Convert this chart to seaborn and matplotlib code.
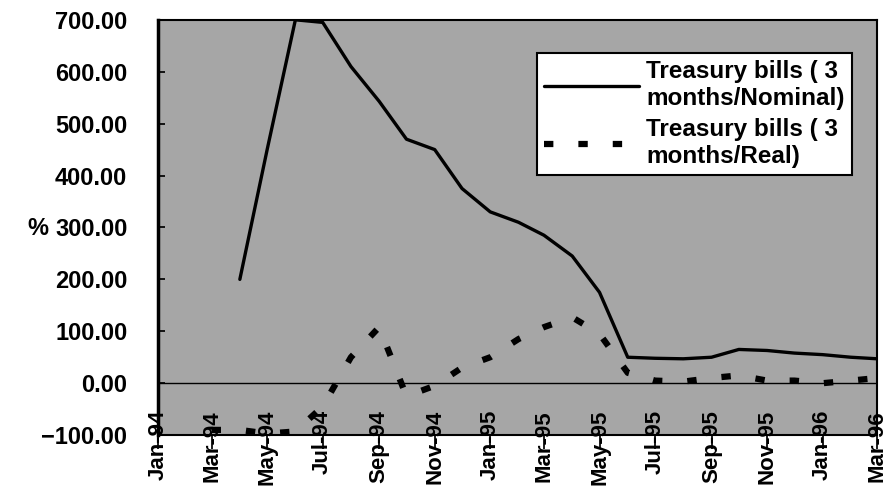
import matplotlib
matplotlib.use("Agg")
import matplotlib.pyplot as plt
import matplotlib.dates as mdates
import numpy as np
import pandas as pd
import seaborn as sns

months = ["Mar-94", "Apr-94", "May-94", "Jun-94", "Jul-94", "Aug-94", "Sep-94",
          "Oct-94", "Nov-94", "Dec-94", "Jan-95", "Feb-95", "Mar-95", "Apr-95",
          "May-95", "Jun-95", "Jul-95", "Aug-95", "Sep-95", "Oct-95", "Nov-95",
          "Dec-95", "Jan-96", "Feb-96", "Mar-96"]
nominal = [np.nan, 200, 450, 700, 695, 610, 543, 470, 450, 375, 330, 310, 285,
           245, 175, 50, 48, 47, 50, 65, 63, 58, 55, 50, 47]
real = [-90, -90, -97, -93, -45, 50, 108, -25, -5, 30, 50, 85, 108, 127, 95,
        20, 5, 3, 10, 15, 5, 5, 0, 5, 10]
yticks = [-100, 0, 100, 200, 300, 400, 500, 600, 700]

dates = pd.to_datetime(months, format="%b-%y")

sns.set_theme(style="ticks")
plt.rcParams["font.family"] = ["Liberation Sans", "DejaVu Sans"]
plt.rcParams["font.weight"] = "bold"

fig = plt.figure(figsize=(8.87, 4.95), dpi=100)
ax = fig.add_axes([0.178, 0.121, 0.811, 0.839])
ax.set_facecolor("#a6a6a6")

sns.lineplot(x=dates, y=nominal, color="black", linewidth=2.4,
             label="Treasury bills ( 3\nmonths/Nominal)", ax=ax)
sns.lineplot(x=dates, y=real, color="black", linewidth=4.5,
             dashes=False, label="Treasury bills ( 3\nmonths/Real)", ax=ax)
ax.lines[-1].set_dashes((1.5, 4))
ax.axhline(0, color="black", linewidth=1)

ax.set_ylim(-100, 700)
ax.set_yticks(yticks)
ax.set_yticklabels([f"{v:.2f}".replace("-", "\u2212") for v in yticks])
ax.set_xlim(pd.Timestamp("1994-01-01"), pd.Timestamp("1996-03-01"))
ax.xaxis.set_major_locator(mdates.MonthLocator(bymonth=[1, 3, 5, 7, 9, 11]))
ax.xaxis.set_major_formatter(mdates.DateFormatter("%b-%y"))

ax.tick_params(axis="y", direction="in", length=5, labelsize=17, pad=22,
               color="black", labelcolor="black")
ax.tick_params(axis="x", direction="out", length=10, labelsize=16, pad=-28,
               labelrotation=90, color="black", labelcolor="black")
for lbl in ax.get_xticklabels():
    lbl.set_fontweight("bold")
for lbl in ax.get_yticklabels():
    lbl.set_fontweight("bold")

for side in ["left", "right", "top", "bottom"]:
    ax.spines[side].set_visible(True)
    ax.spines[side].set_color("black")
    ax.spines[side].set_linewidth(1.5)
ax.spines["left"].set_linewidth(2.5)

ax.set_xlabel("")
ax.set_ylabel("%", rotation=0, fontsize=17, fontweight="bold", color="black")
ax.yaxis.set_label_coords(-0.167, 0.47)

leg = ax.legend(loc="upper right", bbox_to_anchor=(0.965, 0.92), fontsize=17.5,
                frameon=True, fancybox=False, framealpha=1, edgecolor="black",
                handlelength=3.9, handletextpad=0.3, labelspacing=0.35,
                borderpad=0.3, borderaxespad=0)
leg.get_frame().set_linewidth(1.5)
for t in leg.get_texts():
    t.set_fontweight("bold")
    t.set_color("black")

fig.savefig("out.png", dpi=100)
